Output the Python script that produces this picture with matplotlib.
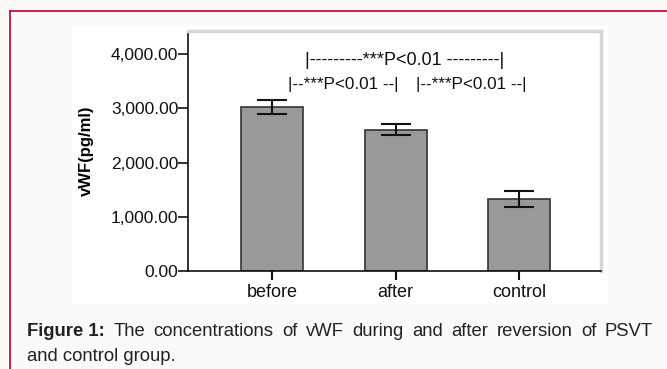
import numpy as np
import matplotlib.pyplot as plt
from matplotlib.lines import Line2D
from matplotlib.ticker import FuncFormatter

plt.rcParams['font.family'] = ['Liberation Sans', 'DejaVu Sans']

# data
groups = ['before', 'after', 'control']
means = [3020, 2610, 1335]
errors = [130, 95, 148]
yticks = [0, 1000, 2000, 3000, 4000]
sig_labels = ['|---------***P<0.01 ---------|', '|--***P<0.01 --|', '|--***P<0.01 --|']
caption_bold = 'Figure 1:'
caption_line1 = 'The concentrations of vWF during and after reversion of PSVT'
caption_line2 = 'and control group.'

# annotation placement (x in category units, y in data units)
sig_x = [1.07, 0.575, 1.61]
sig_y = [3890, 3445, 3445]
sig_size = [13, 12.3, 12.3]

W, H = 667, 369
fig = plt.figure(figsize=(W / 100, H / 100), dpi=100, facecolor='#fcf9f9')

# white panel behind the chart
bg = fig.add_axes([72 / W, 1 - 304 / H, 536 / W, 278 / H], zorder=0)
bg.set_facecolor('white')
bg.set_xticks([])
bg.set_yticks([])
for s in bg.spines.values():
    s.set_visible(False)

# crimson frame (top and left)
red = '#c8103a'
fig.lines.append(Line2D([10 / W, 1.0], [1 - 10.5 / H, 1 - 10.5 / H],
                        transform=fig.transFigure, color=red, lw=1.3))
fig.lines.append(Line2D([10 / W, 10 / W], [0, 1 - 10.5 / H],
                        transform=fig.transFigure, color=red, lw=1.3))

ax = fig.add_axes([188 / W, 1 - 271 / H, (601 - 188) / W, (271 - 31) / H], zorder=1)
ax.set_facecolor('white')

x = np.arange(len(groups))
ax.bar(x, means, width=0.5, color='#999999', edgecolor='#333333', linewidth=1.2, zorder=2)
ax.errorbar(x, means, yerr=errors, fmt='none', ecolor='#111111',
            elinewidth=1.5, capsize=11, capthick=1.5, zorder=3)

ax.set_xlim(-0.68, 2.66)
ax.set_ylim(0, 4430)
ax.set_yticks(yticks)
ax.yaxis.set_major_formatter(FuncFormatter(lambda v, p: f'{v:,.2f}'))
ax.set_xticks(x)
ax.set_xticklabels(groups)

ax.tick_params(axis='y', direction='out', length=7, width=1.2, pad=0,
               labelsize=12.5, colors='#111111')
ax.tick_params(axis='x', direction='out', length=6.5, width=1.5, pad=3,
               labelsize=13, colors='#111111')

for s in ['left', 'bottom']:
    ax.spines[s].set_color('#111111')
    ax.spines[s].set_linewidth(1.2)
for s in ['top', 'right']:
    ax.spines[s].set_color('#d6d6d6')
    ax.spines[s].set_linewidth(2.5)

ax.set_ylabel('vWF(pg/ml)', fontsize=12, fontweight='bold', labelpad=12)

for lab, sx, sy, fs_ in zip(sig_labels, sig_x, sig_y, sig_size):
    ax.text(sx, sy, lab, ha='center', va='center', fontsize=fs_, color='#111111')

# caption, first line justified between the left and right margins
cap_left, cap_right = 27 / W, 653 / W
y1, y2 = 1 - 336 / H, 1 - 361 / H
fs = 13.3
renderer = fig.canvas.get_renderer()
words = [(caption_bold, 'bold')] + [(w, 'normal') for w in caption_line1.split()]
items = []
total = 0
for w, wt in words:
    t = fig.text(0, y1, w, fontsize=fs, fontweight=wt, va='baseline', ha='left', color='#222222')
    bb = t.get_window_extent(renderer=renderer)
    items.append((t, bb.width / W))
    total += bb.width / W
gap = (cap_right - cap_left - total) / (len(items) - 1)
pos = cap_left
for t, wd in items:
    t.set_x(pos)
    pos += wd + gap

fig.text(cap_left, y2, caption_line2, fontsize=fs, va='baseline', ha='left', color='#222222')

fig.savefig('out.png', dpi=100, facecolor=fig.get_facecolor())
